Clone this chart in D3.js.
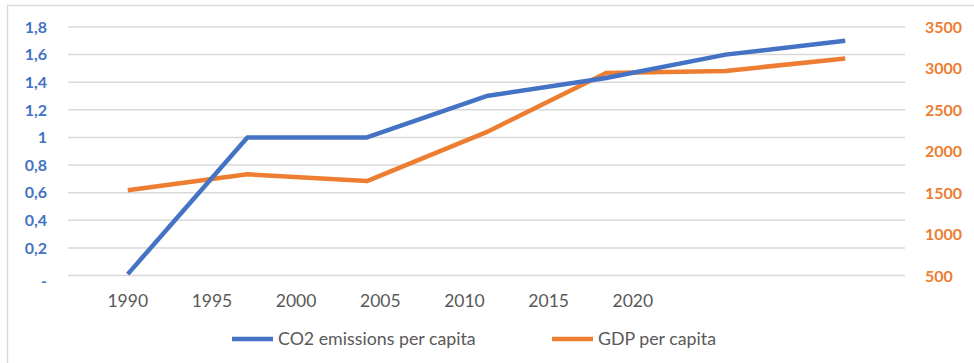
<!DOCTYPE html>
<html>
<head>
<meta charset="utf-8">
<script src="https://cdn.jsdelivr.net/npm/d3@7"></script>
<style>
  html, body { margin: 0; padding: 0; background: #fff; }
  svg { display: block; font-family: Lato, "Open Sans", sans-serif; }
</style>
</head>
<body>
<svg id="chart" width="974" height="363"></svg>
<script>
// Seven observations, one per period
const periods = [0, 1, 2, 3, 4, 5, 6];
const co2PerCapita = [0.01, 1.0, 1.0, 1.3, 1.43, 1.6, 1.7];
const gdpPerCapita = [1530, 1722, 1640, 2230, 2945, 2970, 3120];

// Axis labels
const yearLabels = [1990, 1995, 2000, 2005, 2010, 2015, 2020];
const leftTicks = [0, 0.2, 0.4, 0.6, 0.8, 1.0, 1.2, 1.4, 1.6, 1.8];
const rightTicks = [500, 1000, 1500, 2000, 2500, 3000, 3500];

const seriesNames = ["CO2 emissions per capita", "GDP per capita"];
const colors = { co2: "#4472C4", gdp: "#ED7D31" };

const W = 974, H = 363;
const plot = { left: 68, right: 905, top: 27, bottom: 275.5 };

const svg = d3.select("#chart");

// Outer frame
svg.append("rect")
  .attr("x", 7.5).attr("y", 5.5)
  .attr("width", W).attr("height", H)
  .attr("fill", "none").attr("stroke", "#d9d9d9").attr("stroke-width", 1.5);

// Scales
const x = d3.scalePoint().domain(periods).range([plot.left, plot.right]).padding(0.5);
const yLeft = d3.scaleLinear().domain([0, 1.8]).range([plot.bottom, plot.top]);
const yRight = d3.scaleLinear().domain([500, 3500]).range([plot.bottom, plot.top]);
const labelStep = 84.17;
const xYear = d3.scaleLinear().domain([1990, 2020]).range([x(0), x(0) + 6 * labelStep]);

// Horizontal gridlines
svg.append("g").selectAll("line").data(leftTicks).join("line")
  .attr("x1", plot.left).attr("x2", plot.right)
  .attr("y1", d => yLeft(d)).attr("y2", d => yLeft(d))
  .attr("stroke", "#d9d9d9").attr("stroke-width", 1.5);

// Left axis labels
const fmtLeft = d => d === 0 ? "-" : d3.format(".1~f")(d).replace(".", ",");
svg.append("g").selectAll("text").data(leftTicks).join("text")
  .attr("x", 47)
  .attr("y", d => yLeft(d) + (d === 0 ? 11 : 5.8))
  .attr("text-anchor", "end")
  .attr("font-size", 16).attr("font-weight", "bold")
  .attr("fill", colors.co2)
  .text(fmtLeft);

// Right axis labels
svg.append("g").selectAll("text").data(rightTicks).join("text")
  .attr("x", 925)
  .attr("y", d => yRight(d) + 6)
  .attr("text-anchor", "start")
  .attr("font-size", 16).attr("font-weight", "bold")
  .attr("fill", colors.gdp)
  .text(d => d);

// Year labels
svg.append("g").selectAll("text").data(yearLabels).join("text")
  .attr("x", d => xYear(d))
  .attr("y", 306.5)
  .attr("text-anchor", "middle")
  .attr("font-size", 17.5)
  .attr("fill", "#595959")
  .text(d => d);

// Lines
const lineCo2 = d3.line().x((d, i) => x(periods[i])).y(d => yLeft(d));
const lineGdp = d3.line().x((d, i) => x(periods[i])).y(d => yRight(d));

svg.append("path").datum(gdpPerCapita)
  .attr("d", lineGdp)
  .attr("fill", "none").attr("stroke", colors.gdp)
  .attr("stroke-width", 4.5).attr("stroke-linejoin", "round");

svg.append("path").datum(co2PerCapita)
  .attr("d", lineCo2)
  .attr("fill", "none").attr("stroke", colors.co2)
  .attr("stroke-width", 4.5).attr("stroke-linejoin", "round");

// Legend
const legendItems = [
  { name: seriesNames[0], color: colors.co2, x: 232 },
  { name: seriesNames[1], color: colors.gdp, x: 552 }
];
const lg = svg.append("g").selectAll("g").data(legendItems).join("g")
  .attr("transform", d => `translate(${d.x},339)`);
lg.append("line")
  .attr("x1", 0).attr("x2", 41).attr("y1", 0).attr("y2", 0)
  .attr("stroke", d => d.color).attr("stroke-width", 4.5);
lg.append("text")
  .attr("x", 46).attr("y", 6)
  .attr("font-size", 17.8)
  .attr("fill", "#595959")
  .text(d => d.name);
</script>
</body>
</html>
